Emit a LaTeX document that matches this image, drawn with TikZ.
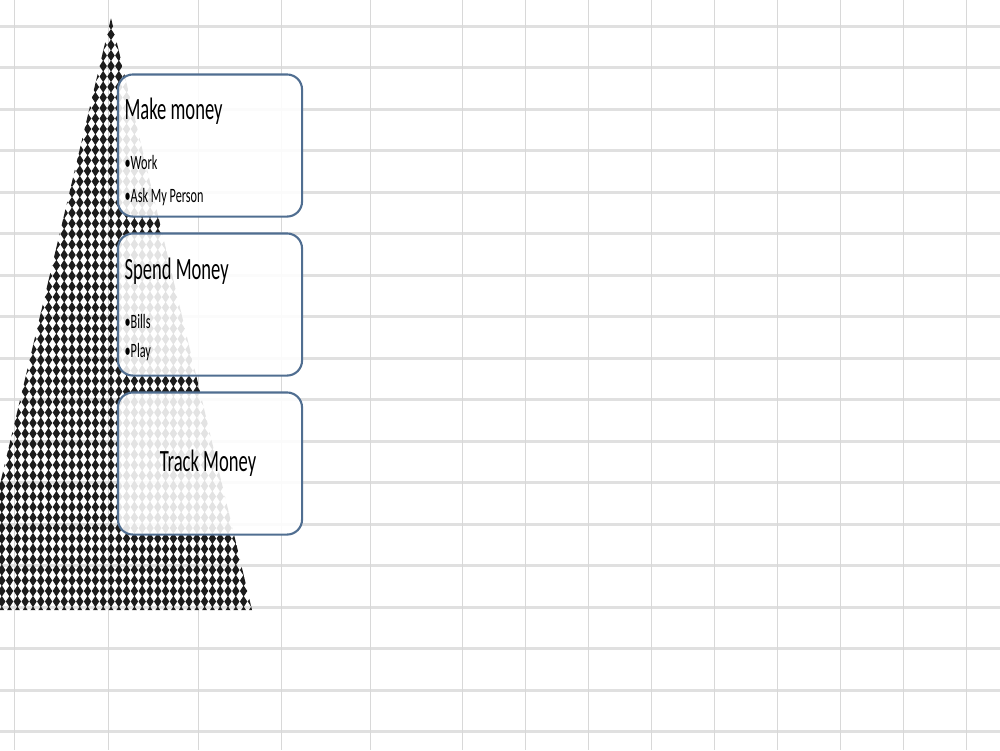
\documentclass[tikz,border=0pt]{standalone}
\usepackage{fontspec}
\usepackage{tikz}
\usetikzlibrary{calc}
\newfontfamily\smartfont[FakeStretch=0.6]{Carlito}
\definecolor{gridgray}{RGB}{224,224,224}
\definecolor{cellgray}{RGB}{216,216,216}
\definecolor{edgeblue}{RGB}{80,110,145}
\definecolor{dotblack}{RGB}{28,28,28}

\begin{document}
\begin{tikzpicture}[x=0.01cm,y=-0.01cm,
  stage/.style={draw=edgeblue,line width=0.6pt,fill=white,fill opacity=0.88,text opacity=1,rounded corners=0.15cm,minimum width=1.84cm,minimum height=1.42cm,inner sep=0pt},
  head/.style={font=\smartfont\fontsize{8.8}{10}\selectfont,inner sep=0pt,anchor=base west},
  point/.style={font=\smartfont\fontsize{5.8}{7}\selectfont,inner sep=0pt,anchor=base west}]
\useasboundingbox (0,0) rectangle (1000,750);
%grid rows
\foreach \y in {0,...,17}
\draw[gridgray,line width=0.85pt] (0,26+41.5*\y) -- (1000,26+41.5*\y);
%grid columns
\foreach \x in {14,108,198,281,370,462,525,588,651,714,777,840,903,966}
\draw[cellgray,line width=0.25pt] (\x,0) -- (\x,750);
%pyramid
\begin{scope}
\clip (111,18) -- (252,610) -- (-30,610) -- cycle;
\foreach \j in {0,...,56}
\foreach \i in {-19,...,18}
\fill[dotblack] (111+7.8*\i,24+10.5*\j) ++(0,-5.6) -- ++(3.7,5.6) -- ++(-3.7,5.6) -- ++(-3.7,-5.6) -- cycle;
\end{scope}
%boxes
\node[stage] (make) at (210,145.5) {};
\node[stage] (spend) at (210,304.5) {};
\node[stage] (track) at (210,463.5) {};
%texts
\node[head] (makeT) at ($(make.north west)+(7,46)$) {Make money};
\node[point] (work) at ($(make.north west)+(7,96)$) {•Work};
\node[point] (ask) at ($(make.north west)+(7,129)$) {•Ask My Person};
\node[head] (spendT) at ($(spend.north west)+(7,47)$) {Spend Money};
\node[point] (bills) at ($(spend.north west)+(7,96)$) {•Bills};
\node[point] (play) at ($(spend.north west)+(7,125)$) {•Play};
\node[head,anchor=center] (trackT) at ($(track.center)+(-2,0)$) {Track Money};
\end{tikzpicture}
\end{document}
